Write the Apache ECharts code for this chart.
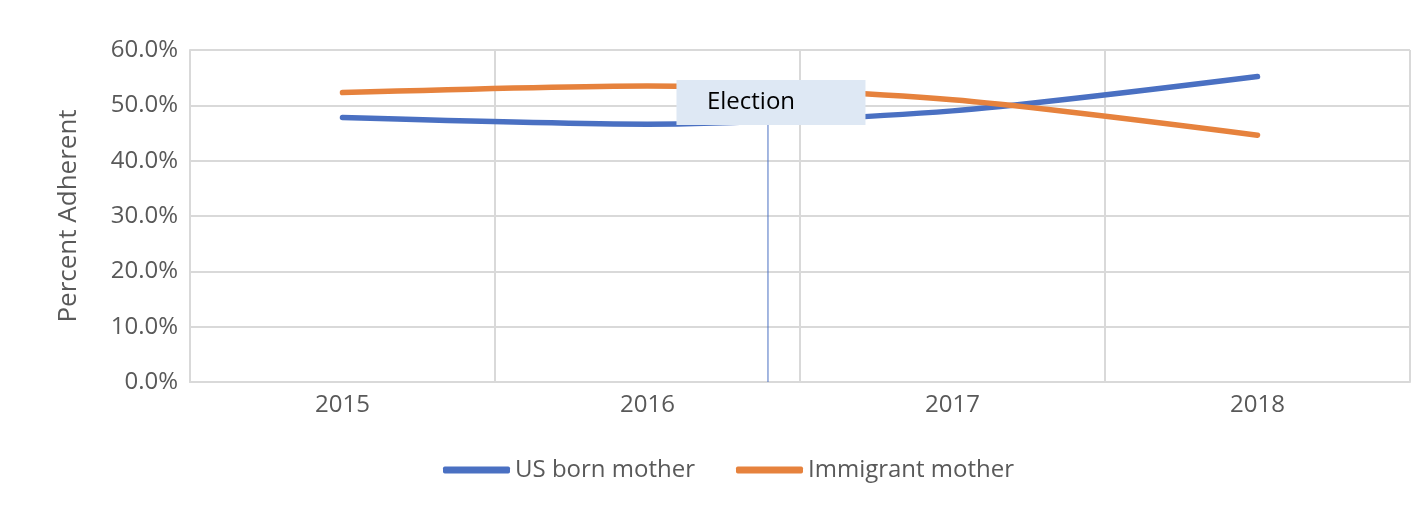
<!DOCTYPE html>
<html>
<head>
<meta charset="utf-8">
<script src="https://cdn.jsdelivr.net/npm/echarts@6/dist/echarts.min.js"></script>
<style>
  html, body { margin: 0; padding: 0; background: #fff; }
  #main { width: 1422px; height: 510px; }
</style>
</head>
<body>
<div id="main"></div>
<script>
// data
var years = ['2015', '2016', '2017', '2018'];
var usBorn = [47.8, 46.6, 49.0, 55.2];
var immigrant = [52.3, 53.5, 51.0, 44.6];
var yTicks = [0, 10, 20, 30, 40, 50, 60];
// election marker: position on the band scale (0 = left edge, 4 = right edge) and label
var electionX = 1.895;
var electionLineTop = 46.5;
var electionLabelY = 50.5;
var electionText = 'Election';

var FONT = 'Open Sans';
var GREY = '#595959';
var GRIDC = '#d9d9d9';
var BLUE = '#4a70c2';
var ORANGE = '#e6823d';

var chart = echarts.init(document.getElementById('main'));
var option = {
    animation: false,
    textStyle: { fontFamily: FONT },
    grid: { left: 190, right: 12, top: 50, bottom: 128 },
    legend: {
        data: ['US born mother', 'Immigrant mother'],
        top: 453,
        left: 438,
        itemWidth: 67,
        itemHeight: 7,
        itemGap: 41,
        icon: 'roundRect',
        textStyle: { fontSize: 24, color: GREY, fontFamily: FONT }
    },
    xAxis: [{
        type: 'category',
        data: years,
        boundaryGap: true,
        axisLine: { lineStyle: { color: GRIDC, width: 2 } },
        axisTick: { show: false },
        axisLabel: { fontSize: 24, color: GREY, margin: 11 },
        splitLine: { show: false }
    }, {
        // band scale over the same width: gives the vertical grid at the
        // category boundaries and places the election marker
        type: 'value',
        min: 0,
        max: years.length,
        interval: 1,
        position: 'bottom',
        axisLine: { show: false },
        axisTick: { show: false },
        axisLabel: { show: false },
        splitLine: { show: true, lineStyle: { color: GRIDC, width: 2 } }
    }],
    yAxis: {
        type: 'value',
        min: yTicks[0],
        max: yTicks[yTicks.length - 1],
        interval: 10,
        name: 'Percent Adherent',
        nameLocation: 'middle',
        nameGap: 108,
        nameTextStyle: { fontSize: 26, color: GREY },
        axisLine: { show: true, lineStyle: { color: GRIDC, width: 2 } },
        axisTick: { show: false },
        axisLabel: {
            fontSize: 24, color: GREY, margin: 12,
            formatter: function (v) { return v.toFixed(1) + '%'; }
        },
        splitLine: { lineStyle: { color: GRIDC, width: 2 } }
    },
    series: [{
        name: 'US born mother',
        type: 'line',
        data: usBorn,
        smooth: 0.25,
        symbol: 'none',
        color: BLUE,
        lineStyle: { width: 5.5, cap: 'round', color: BLUE }
    }, {
        name: 'Immigrant mother',
        type: 'line',
        data: immigrant,
        smooth: 0.25,
        symbol: 'none',
        color: ORANGE,
        lineStyle: { width: 5.5, cap: 'round', color: ORANGE }
    }, {
        name: 'Election',
        type: 'line',
        xAxisIndex: 1,
        data: [[electionX, 0], [electionX, electionLineTop]],
        symbol: 'none',
        lineStyle: { width: 1, color: BLUE },
        z: 3,
        markPoint: {
            symbol: 'rect',
            symbolSize: [189, 45],
            symbolOffset: [3, 0],
            itemStyle: { color: '#dee8f4' },
            label: {
                show: true,
                position: 'inside',
                offset: [-20, 0],
                formatter: electionText,
                fontSize: 24,
                color: '#000',
                fontFamily: FONT
            },
            data: [{ coord: [electionX, electionLabelY] }]
        }
    }]
};
chart.setOption(option);
</script>
</body>
</html>
